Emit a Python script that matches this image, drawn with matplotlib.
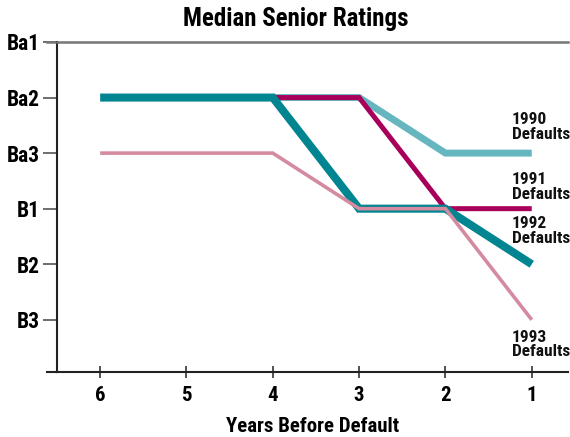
import matplotlib
matplotlib.use("Agg")
import matplotlib.pyplot as plt
from matplotlib import font_manager

# pick the narrowest sans family that is installed
installed = {f.name for f in font_manager.fontManager.ttflist}
for family in ['Liberation Sans Narrow', 'Roboto Condensed', 'Roboto', 'Lato', 'DejaVu Sans']:
    if family in installed:
        break
plt.rcParams['font.family'] = [family, 'DejaVu Sans']
plt.rcParams['font.weight'] = 'bold'

# Ratings scale, best at the top
rating_labels = ['Ba1', 'Ba2', 'Ba3', 'B1', 'B2', 'B3']
rating_pos = [1, 2, 3, 4, 5, 6]
years_ticks = [6, 5, 4, 3, 2, 1]

# Median rating of each default cohort by years before default
years_1990 = [4, 3, 2, 1]
rating_1990 = [2, 2, 3, 3]
years_1991 = [4, 3, 2, 1]
rating_1991 = [2, 2, 4, 4]
years_1992 = [6, 4, 3, 2, 1]
rating_1992 = [2, 2, 4, 4, 5]
years_1993 = [6, 4, 3, 2, 1]
rating_1993 = [3, 3, 4, 4, 6]

cohort_labels = ['1990\nDefaults', '1991\nDefaults', '1992\nDefaults', '1993\nDefaults']
label_y = [2.53, 3.61, 4.40, 6.45]

fig = plt.figure(figsize=(5.7, 4.37), dpi=100)
ax = fig.add_axes([0.1, 0.1487, 0.8965, 0.7552])

line_kw = dict(solid_capstyle='butt', solid_joinstyle='miter')
ax.plot(years_1990, rating_1990, color='#66b6c0', lw=5.0, **line_kw)
ax.plot(years_1991, rating_1991, color='#a8005a', lw=3.6, **line_kw)
ax.plot(years_1992, rating_1992, color='#008591', lw=5.8, **line_kw)
ax.plot(years_1993, rating_1993, color='#d48ba0', lw=2.6, **line_kw)

for text, y in zip(cohort_labels, label_y):
    ax.text(1.23, y, text, fontsize=12.5, fontweight='bold', ha='left', va='center',
            linespacing=0.95, color='#111111')

ax.set_xlim(6.5, 0.58)
ax.set_ylim(6.94, 1)

ax.set_yticks(rating_pos)
ax.set_yticklabels(rating_labels, fontsize=15.5, fontweight='bold')
ax.set_xticks(years_ticks)
ax.set_xticklabels([str(y) for y in years_ticks], fontsize=15, fontweight='bold')
ax.tick_params(axis='y', length=10, width=1.2, color='#555555', pad=2.5)
ax.tick_params(axis='x', direction='inout', length=8, width=1.2, color='#333333', pad=6)

ax.spines['right'].set_visible(False)
ax.spines['top'].set_color('#777777')
ax.spines['top'].set_linewidth(1.8)
ax.spines['left'].set_color('#222222')
ax.spines['left'].set_linewidth(1.5)
ax.spines['bottom'].set_color('#222222')
ax.spines['bottom'].set_linewidth(1.5)

# extend the baseline and the top rule out to the tick marks on the left
ax.plot([-0.02, 0], [0, 0], transform=ax.transAxes, color='#222222', lw=1.5, clip_on=False)
ax.plot([-0.02, 0], [1, 1], transform=ax.transAxes, color='#777777', lw=1.8, clip_on=False)

ax.set_xlabel('Years Before Default', fontsize=15, fontweight='bold', labelpad=8.5)
fig.text(0.518, 0.956, 'Median Senior Ratings', fontsize=18, fontweight='bold',
         ha='center', va='center')

fig.savefig('out.png', dpi=100)
